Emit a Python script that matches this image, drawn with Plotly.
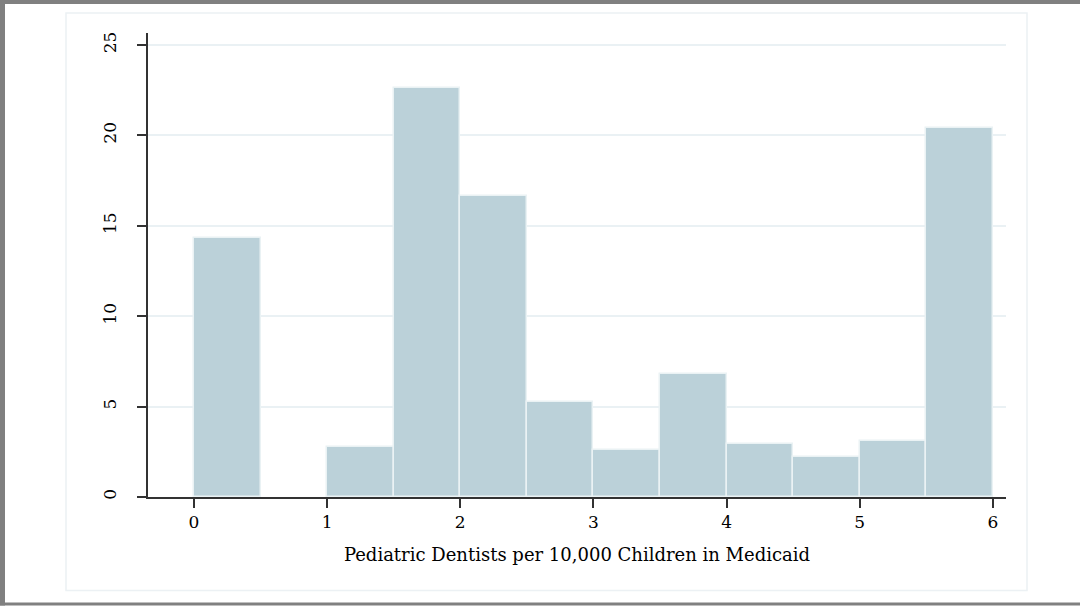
import plotly.graph_objects as go

# Data: percent of observations per 0.5-wide bin
bin_edges = [0.0, 0.5, 1.0, 1.5, 2.0, 2.5, 3.0, 3.5, 4.0, 4.5, 5.0, 5.5, 6.0]
percent = [14.3, 0.0, 2.75, 22.6, 16.65, 5.25, 2.6, 6.8, 2.95, 2.2, 3.1, 20.4]
x_ticks = [0, 1, 2, 3, 4, 5, 6]
y_ticks = [0, 5, 10, 15, 20, 25]
x_title = "Pediatric Dentists per 10,000 Children in Medicaid"

centers = [(a + b) / 2 for a, b in zip(bin_edges[:-1], bin_edges[1:])]
widths = [b - a for a, b in zip(bin_edges[:-1], bin_edges[1:])]
line_widths = [0 if v == 0 else 1.5 for v in percent]

W, H = 1080, 606
L, R_, T, B = 148, 1006, 33, 497.5

def px(x):
    return (x - L) / (R_ - L)

def py(y):
    return (B - y) / (B - T)

FONT = "DejaVu Serif"

fig = go.Figure()
fig.add_trace(go.Bar(
    x=centers, y=percent, width=widths,
    marker=dict(color="rgb(187,209,217)",
                line=dict(color="rgb(234,242,244)", width=line_widths)),
    hoverinfo="x+y",
))

shapes = [
    # faint inner graph region outline
    dict(type="rect", xref="paper", yref="paper",
         x0=px(66), x1=px(1027), y0=py(591), y1=py(13),
         line=dict(color="rgb(236,241,244)", width=1.5), layer="below"),
    # outer gray frame
    dict(type="rect", xref="paper", yref="paper",
         x0=px(0), x1=px(1080), y0=py(4), y1=py(0),
         fillcolor="rgb(128,128,128)", line=dict(width=0)),
    dict(type="rect", xref="paper", yref="paper",
         x0=px(0), x1=px(5), y0=py(606), y1=py(0),
         fillcolor="rgb(128,128,128)", line=dict(width=0)),
    dict(type="rect", xref="paper", yref="paper",
         x0=px(0), x1=px(1080), y0=py(606), y1=py(603),
         fillcolor="rgb(128,128,128)", line=dict(width=0)),
]

fig.update_layout(
    width=W, height=H,
    margin=dict(l=L, r=W - R_, t=T, b=H - B, pad=0),
    paper_bgcolor="white", plot_bgcolor="white",
    showlegend=False, bargap=0,
    font=dict(family=FONT, size=17, color="black"),
    shapes=shapes,
    xaxis=dict(
        range=[-0.345, 6.098],
        tickvals=x_ticks, ticktext=[str(v) for v in x_ticks],
        showgrid=False, zeroline=False,
        showline=True, linecolor="rgb(50,50,50)", linewidth=1.5,
        ticks="outside", ticklen=9, tickwidth=1.5, tickcolor="rgb(50,50,50)",
        tickfont=dict(family=FONT, size=17, color="black"),
        ticklabelstandoff=0,
        title=dict(text=x_title, font=dict(family=FONT, size=18, color="black"), standoff=17),
    ),
    yaxis=dict(
        range=[0, 25.66],
        tickvals=y_ticks, ticktext=[str(v) for v in y_ticks],
        showgrid=True, gridcolor="rgb(234,241,244)", gridwidth=1.5,
        zeroline=False,
        showline=True, linecolor="rgb(50,50,50)", linewidth=1.5,
        ticks="outside", ticklen=9, tickwidth=1.5, tickcolor="rgb(50,50,50)",
        tickangle=-90,
        tickfont=dict(family=FONT, size=17, color="black"),
        ticklabelstandoff=14,
    ),
)

fig.write_html("out.html", config={"displayModeBar": False},
               post_script="document.body.style.margin='0';")
